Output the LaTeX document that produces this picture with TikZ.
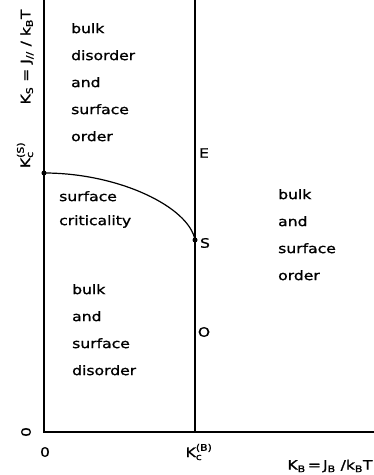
\documentclass[tikz,border=0pt]{standalone}
\usepackage{amsmath}
\usepackage{fontspec}
\setmainfont{DejaVu Sans}[FakeStretch=1.2,FakeBold=1.2]
\usepackage{tikz}
\usetikzlibrary{positioning,calc}

\begin{document}
\begin{tikzpicture}[x=1pt,y=1pt,
 font=\fontsize{13pt}{27pt}\selectfont,
 lbl/.style={inner sep=0pt,align=left,anchor=north west},
 pt/.style={circle,fill=black,inner sep=0pt,minimum size=5pt},
 ln/.style={draw=black,line width=1.2pt}]
\useasboundingbox (-44,-43) rectangle (330,432);
% axes and the bulk critical line
\coordinate (orig) at (0,0);
\coordinate (ytop) at (0,432);
\coordinate (xend) at (332,0);
\coordinate (kb) at (151,0);
\coordinate (kbtop) at (151,432);
\draw[ln] (ytop) -- (orig) -- (xend);
\draw[ln] (kb) -- (kbtop);
\node[pt] (ks) at (0,259) {};
\node[pt] (S) at (151,192) {};
\draw[ln] (ks.center) .. controls (75,259) and (145,225) .. (S.center);
% regions
\node[lbl] (r1) at (27,409) {bulk\\disorder\\and\\surface\\order};
\node[lbl,font=\fontsize{13pt}{24pt}\selectfont] (r2) at (15,241) {surface\\criticality};
\node[lbl] (r3) at (28,148) {bulk\\and\\surface\\disorder};
\node[lbl] (r4) at (234,243) {bulk\\and\\surface\\order};
\node (E) at (160,279) {E};
\node (Sl) at (161,189) {S};
\node (Ol) at (160,100) {O};
% axis labels
\node (x0) at (1,-20) {0};
\node[rotate=90] (y0) at (-18,0) {0};
\node (kbc) at (155,-20) {$\text{K}^{\text{(B)}}_{\text{c}}$};
\node[anchor=east] (xl) at (332,-34) {K\textsubscript{B}\,=\,J\textsubscript{B} /k\textsubscript{B}T};
\node[rotate=90] (ksc) at (-19,277) {$\text{K}^{\text{(S)}}_{\text{c}}$};
\node[rotate=90] (yl) at (-17,375) {K\textsubscript{S} = J\textsubscript{//} / k\textsubscript{B}T};
\end{tikzpicture}
\end{document}
